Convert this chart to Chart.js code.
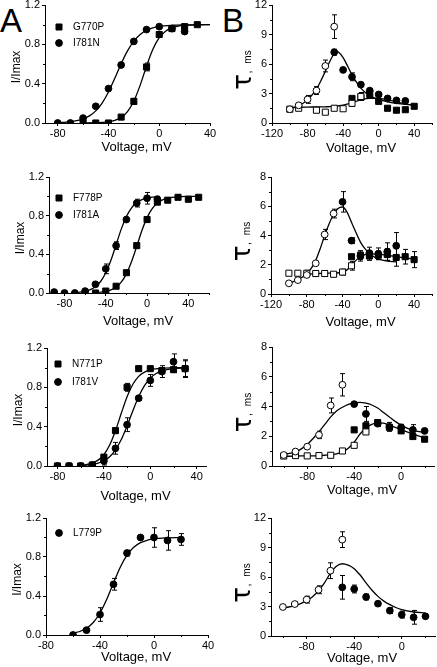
<!DOCTYPE html>
<html>
<head>
<meta charset="utf-8">
<script src="https://cdn.jsdelivr.net/npm/chart.js@4.4.1/dist/chart.umd.min.js"></script>
<style>
  body { margin: 0; background: #fff; width: 437px; height: 667px; position: relative; overflow: hidden; }
  canvas { position: absolute; }
  .letter { position: absolute; font: 33px/1 "Liberation Sans", Arial, sans-serif; color: #000; }
</style>
</head>
<body>
<div class="letter" style="left:0px;top:4px">A</div>
<div class="letter" style="left:222px;top:4px">B</div>
<script>
const FONT = '"Liberation Sans", Arial, sans-serif';

// Tick labels
const ticksVoltA = [-80, -40, 0, 40];
const ticksVoltB = [-120, -80, -40, 0, 40];
const ticksVoltB34 = [-80, -40, 0];
const ticksIrel = [0, 0.4, 0.8, 1.2];
const ticksTau12 = [0, 3, 6, 9, 12];
const ticksTau8 = [0, 2, 4, 6, 8];

// A1: G770P (squares) and I781N (circles)
const a1SqV = [-60, -50, -40, -30, -20, -10, 0, 10, 20, 30];
const a1Sq = [0, 0, 0, 0.06, 0.22, 0.57, 0.9, 0.96, 0.98, 1.0];
const a1SqErr = [0, 0, 0, 0.01, 0.03, 0.04, 0.03, 0.02, 0.02, 0];
const a1CiV = [-80, -70, -60, -50, -40, -30, -20, -10, 0, 10, 20];
const a1Ci = [0, 0, 0.05, 0.17, 0.35, 0.59, 0.83, 0.95, 0.98, 0.96, 0.93];
const a1CiErr = [0, 0, 0.01, 0.01, 0.02, 0.02, 0.02, 0.01, 0.02, 0.02, 0.02];
const a1FitSqV = [-60, -50, -45, -40, -35, -30, -25, -20, -15, -10, -5, 0, 5, 10, 15, 20, 30, 40];
const a1FitSq = [0.001, 0.003, 0.006, 0.012, 0.027, 0.057, 0.116, 0.223, 0.385, 0.578, 0.749, 0.867, 0.934, 0.969, 0.986, 0.993, 0.998, 1.0];
const a1FitCiV = [-80, -75, -70, -65, -60, -55, -50, -45, -40, -35, -30, -25, -20, -15, -10, -5, 0, 10, 20, 30, 40];
const a1FitCi = [0.004, 0.007, 0.013, 0.023, 0.041, 0.072, 0.123, 0.203, 0.316, 0.456, 0.603, 0.733, 0.833, 0.9, 0.943, 0.967, 0.982, 0.994, 0.998, 0.999, 1.0];

// A2: F778P (squares) and I781A (circles)
const a2SqV = [-60, -50, -40, -30, -20, -10, 0, 10, 20, 30, 40, 50];
const a2Sq = [0, 0, 0.02, 0.07, 0.21, 0.49, 0.76, 0.94, 0.96, 0.99, 0.97, 0.99];
const a2SqErr = [0, 0, 0, 0.01, 0.02, 0.02, 0.02, 0.02, 0.02, 0.02, 0, 0];
const a2CiV = [-90, -80, -70, -60, -50, -40, -30, -20, -10, 0, 10];
const a2Ci = [0.01, 0, 0, 0.02, 0.09, 0.25, 0.49, 0.76, 0.93, 0.98, 0.97];
const a2CiErr = [0, 0, 0, 0, 0.02, 0.05, 0.04, 0.02, 0.04, 0.06, 0.03];
const a2FitSqV = [-50, -45, -40, -35, -30, -25, -20, -15, -10, -5, 0, 5, 10, 15, 20, 30, 40, 50];
const a2FitSq = [0.005, 0.009, 0.017, 0.032, 0.061, 0.112, 0.198, 0.325, 0.483, 0.646, 0.78, 0.873, 0.931, 0.963, 0.981, 0.995, 0.999, 1.0];
const a2FitCiV = [-70, -65, -60, -55, -50, -45, -40, -35, -30, -25, -20, -15, -10, -5, 0, 5, 10];
const a2FitCi = [0.005, 0.009, 0.018, 0.034, 0.065, 0.119, 0.209, 0.339, 0.5, 0.661, 0.791, 0.881, 0.935, 0.966, 0.982, 0.991, 0.995];

// A3: N771P (squares) and I781V (circles)
const a3SqV = [-80, -70, -60, -50, -40, -30, -20, -10, 0, 10, 20, 30];
const a3Sq = [0, 0, 0, 0.01, 0.09, 0.36, 0.8, 0.99, 0.99, 0.97, 0.98, 0.99];
const a3SqErr = [0, 0, 0, 0, 0.02, 0.03, 0.04, 0.02, 0.02, 0.03, 0.03, 0.09];
const a3CiV = [-80, -70, -60, -50, -40, -30, -20, -10, 0, 10, 20, 30];
const a3Ci = [0, 0, 0, 0.01, 0.05, 0.18, 0.42, 0.69, 0.87, 0.96, 1.06, 0.99];
const a3CiErr = [0, 0, 0, 0, 0.04, 0.06, 0.07, 0.02, 0.06, 0.06, 0.08, 0.08];
const a3FitSqV = [-60, -55, -50, -45, -40, -35, -30, -25, -20, -15, -10, -5, 0, 10, 20, 30];
const a3FitSq = [0.007, 0.015, 0.03, 0.06, 0.116, 0.214, 0.359, 0.536, 0.705, 0.831, 0.911, 0.954, 0.977, 0.995, 0.999, 1.0];
const a3FitCiV = [-60, -55, -50, -45, -40, -35, -30, -25, -20, -15, -10, -5, 0, 5, 10, 20, 30];
const a3FitCi = [0.005, 0.009, 0.016, 0.029, 0.053, 0.095, 0.165, 0.269, 0.407, 0.562, 0.706, 0.818, 0.893, 0.94, 0.967, 0.99, 0.997];

// A4: L779P (circles)
const a4CiV = [-60, -50, -40, -30, -20, -10, 0, 10, 20];
const a4Ci = [0, 0.05, 0.21, 0.52, 0.84, 1.0, 1.0, 0.97, 0.98];
const a4CiErr = [0, 0.01, 0.07, 0.06, 0.03, 0.01, 0.1, 0.1, 0.06];
const a4FitV = [-60, -55, -50, -45, -40, -35, -30, -25, -20, -15, -10, -5, 0, 10, 20];
const a4Fit = [0.019, 0.036, 0.069, 0.128, 0.226, 0.366, 0.534, 0.695, 0.819, 0.899, 0.947, 0.972, 0.986, 0.996, 0.999];

// B1: time constants (ms), open = deactivation, filled = activation
const b1OcV = [-100, -90, -80, -70, -60, -50];
const b1Oc = [1.4, 1.8, 2.4, 3.3, 5.8, 9.8];
const b1OcErr = [0.1, 0.2, 0.4, 0.4, 0.6, 1.2];
const b1OsV = [-100, -90, -70, -60, -50, -40, -30, -20];
const b1Os = [1.4, 1.5, 1.3, 1.1, 1.5, 1.45, 2.0, 2.7];
const b1OsErr = [0, 0.1, 0.1, 0.1, 0.1, 0.1, 0.3, 0.4];
const b1FcV = [-50, -40, -30, -20, -10, 0, 10, 20, 30];
const b1Fc = [7.2, 5.4, 4.7, 3.9, 3.3, 2.9, 2.5, 2.3, 2.25];
const b1FcErr = [0.3, 0.15, 0.4, 0.15, 0.2, 0.15, 0.1, 0.1, 0.1];
const b1FsV = [-30, -20, -10, 0, 10, 20, 30, 40];
const b1Fs = [2.5, 2.6, 2.9, 2.2, 1.5, 1.3, 1.35, 1.7];
const b1FsErr = [0.15, 0.2, 0.2, 0.15, 0.1, 0.1, 0.1, 0.1];
const b1FitBellV = [-100, -95, -90, -85, -80, -75, -70, -65, -60, -55, -50, -47, -45, -40, -35, -30, -25, -20, -15, -10, -5, 0, 10, 20, 30, 40];
const b1FitBell = [1.5, 1.6, 1.75, 2.0, 2.35, 2.85, 3.45, 4.3, 5.25, 6.25, 7.05, 7.25, 7.2, 6.65, 5.8, 4.9, 4.15, 3.55, 3.1, 2.8, 2.55, 2.4, 2.15, 2.0, 1.9, 1.85];
const b1FitLowV = [-100, -90, -80, -70, -60, -50, -40, -30, -20, -10, 0, 10, 20, 30, 40];
const b1FitLow = [1.55, 1.6, 1.62, 1.63, 1.65, 1.7, 1.82, 2.05, 2.35, 2.5, 2.5, 2.35, 2.15, 1.95, 1.8];

// B2
const b2OcV = [-100, -90, -80, -70, -60, -50];
const b2Oc = [0.73, 0.95, 1.3, 2.1, 4.07, 5.5];
const b2OcErr = [0, 0, 0.1, 0.1, 0.35, 0.3];
const b2OsV = [-100, -90, -80, -70, -60, -50, -40, -30];
const b2Os = [1.42, 1.42, 1.42, 1.4, 1.4, 1.35, 1.5, 1.93];
const b2OsErr = [0, 0, 0.2, 0.2, 0.2, 0.1, 0.2, 0.3];
const b2FcV = [-40, -30, -20, -10, 0, 10, 20];
const b2Fc = [6.3, 3.65, 2.6, 2.8, 2.75, 2.9, 3.3];
const b2FcErr = [0.7, 0.2, 0.35, 0.4, 0.4, 0.6, 0.9];
const b2FsV = [-30, -20, -10, 0, 10, 20, 30, 40];
const b2Fs = [2.55, 2.65, 2.6, 2.65, 2.7, 2.5, 2.55, 2.35];
const b2FsErr = [0.1, 0.3, 0.3, 0.3, 0.4, 0.6, 0.5, 0.55];
const b2FitBellV = [-82, -80, -75, -70, -65, -60, -55, -50, -45, -40, -35, -30, -25, -20, -15, -10, -5, 0, 10, 20];
const b2FitBell = [1.3, 1.4, 1.75, 2.3, 3.1, 4.0, 4.8, 5.45, 5.85, 5.95, 5.6, 4.9, 4.2, 3.55, 3.1, 2.8, 2.55, 2.4, 2.25, 2.2];
const b2FitLowV = [-100, -95, -90, -85, -80, -75, -70, -60, -50, -40, -35, -30, -25, -20, -15, -10, 0, 10, 20, 30, 40];
const b2FitLow = [0.75, 0.85, 0.98, 1.15, 1.3, 1.37, 1.4, 1.42, 1.43, 1.5, 1.65, 1.95, 2.3, 2.55, 2.7, 2.75, 2.72, 2.65, 2.55, 2.45, 2.4];

// B3
const b3OcV = [-100, -90, -80, -70, -60, -50];
const b3Oc = [0.74, 0.97, 1.3, 2.09, 4.07, 5.46];
const b3OcErr = [0.05, 0.05, 0.1, 0.25, 0.5, 0.75];
const b3OsV = [-100, -90, -80, -70, -60, -50, -40, -30];
const b3Os = [0.67, 0.7, 0.68, 0.7, 0.72, 1.01, 1.39, 2.29];
const b3OsErr = [0, 0, 0, 0, 0, 0.1, 0.1, 0.1];
const b3FcV = [-40, -30, -20, -10, 0, 10, 20];
const b3Fc = [4.16, 3.5, 2.85, 2.63, 2.6, 2.43, 2.36];
const b3FcErr = [0.15, 0.5, 0.2, 0.3, 0.2, 0.35, 0.1];
const b3FsV = [-40, -30, -20, -10, 0, 10, 20];
const b3Fs = [2.43, 2.7, 2.92, 2.6, 2.36, 1.98, 1.8];
const b3FsErr = [0.1, 0.2, 0.1, 0.1, 0.1, 0.1, 0.1];
const b3FitBellV = [-100, -95, -90, -85, -80, -75, -70, -65, -60, -55, -50, -45, -40, -35, -30, -25, -20, -15, -10, -5, 0, 5, 10, 20];
const b3FitBell = [0.8, 0.85, 0.95, 1.15, 1.45, 1.85, 2.3, 2.8, 3.3, 3.7, 3.95, 4.15, 4.25, 4.28, 4.22, 4.1, 3.9, 3.6, 3.3, 3.0, 2.75, 2.55, 2.4, 2.25];
const b3FitLowV = [-100, -90, -80, -70, -60, -55, -50, -45, -40, -35, -30, -25, -20, -15, -10, -5, 0, 10, 20];
const b3FitLow = [0.65, 0.67, 0.68, 0.7, 0.75, 0.82, 0.95, 1.2, 1.6, 2.15, 2.55, 2.8, 2.9, 2.88, 2.75, 2.6, 2.45, 2.15, 1.9];

// B4
const b4OcV = [-100, -90, -80, -70, -60, -50];
const b4Oc = [2.95, 3.25, 3.7, 4.7, 6.64, 9.8];
const b4OcErr = [0.15, 0.2, 0.35, 0.4, 0.8, 0.8];
const b4FcV = [-50, -40, -30, -20, -10, 0, 10, 20];
const b4Fc = [4.95, 4.78, 3.97, 3.29, 2.58, 2.17, 1.9, 2.0];
const b4FcErr = [1.2, 0.4, 0.3, 0.2, 0.3, 0.35, 0.7, 0.1];
const b4FitV = [-100, -95, -90, -85, -80, -75, -70, -65, -60, -55, -50, -45, -40, -35, -30, -25, -20, -15, -10, -5, 0, 10, 20];
const b4Fit = [2.85, 2.95, 3.1, 3.3, 3.6, 4.0, 4.6, 5.4, 6.4, 7.1, 7.35, 7.2, 6.85, 6.2, 5.4, 4.65, 4.03, 3.55, 3.19, 2.9, 2.68, 2.44, 2.34];

// Marker series: kind = sqF / ciF / sqO / ciO
function pts(xs, ys, errs, kind) {
  const square = kind[0] === 's';
  return {
    data: xs.map((x, i) => ({ x: x, y: ys[i] })),
    errs: errs,
    showLine: false,
    pointStyle: square ? 'rect' : 'circle',
    pointRadius: square ? 4.3 : 3.4,
    pointBackgroundColor: kind[2] === 'F' ? '#000' : '#fff',
    pointBorderColor: '#000',
    pointBorderWidth: 1,
  };
}

// Fitted curve
function fit(xs, ys) {
  return {
    data: xs.map((x, i) => ({ x: x, y: ys[i] })),
    showLine: true,
    pointRadius: 0,
    borderColor: '#000',
    borderWidth: 1.3,
    cubicInterpolationMode: 'monotone',
    fill: false,
  };
}

function minorVals(ticks, min, max) {
  const step = ticks[1] - ticks[0];
  const out = [];
  for (let v = ticks[0] - step / 2; v <= max + 1e-9; v += step) {
    if (v >= min - 1e-9) out.push(v);
  }
  return out;
}

function drawMarker(ctx, x, y, kind) {
  ctx.beginPath();
  if (kind[0] === 's') ctx.rect(x - 3, y - 3, 6, 6);
  else ctx.arc(x, y, 3.4, 0, Math.PI * 2);
  ctx.fillStyle = kind[2] === 'F' ? '#000' : '#fff';
  ctx.fill();
  ctx.strokeStyle = '#000';
  ctx.lineWidth = 1;
  ctx.stroke();
}

const panelDecor = {
  id: 'panelDecor',
  beforeDatasetsDraw(chart) {
    // error bars
    const ctx = chart.ctx, xs = chart.scales.x, ys = chart.scales.y;
    ctx.save();
    ctx.strokeStyle = '#000';
    ctx.lineWidth = 1;
    chart.data.datasets.forEach((ds) => {
      if (!ds.errs) return;
      ds.data.forEach((p, i) => {
        const e = ds.errs[i];
        if (!e) return;
        const px = Math.round(xs.getPixelForValue(p.x)) + 0.5;
        const y1 = ys.getPixelForValue(p.y + e);
        const y2 = ys.getPixelForValue(p.y - e);
        ctx.beginPath();
        ctx.moveTo(px, y1); ctx.lineTo(px, y2);
        ctx.moveTo(px - 2.5, y1); ctx.lineTo(px + 2.5, y1);
        ctx.moveTo(px - 2.5, y2); ctx.lineTo(px + 2.5, y2);
        ctx.stroke();
      });
    });
    ctx.restore();
  },
  afterDraw(chart) {
    const d = chart.canvas.decor;
    const ctx = chart.ctx, xs = chart.scales.x, ys = chart.scales.y;
    const a = chart.chartArea;
    ctx.save();
    ctx.strokeStyle = '#000';
    ctx.fillStyle = '#000';
    ctx.lineWidth = 1;

    // minor ticks
    ctx.beginPath();
    minorVals(d.xTicks, d.xRange[0], d.xRange[1]).forEach((v) => {
      const px = Math.round(xs.getPixelForValue(v)) + 0.5;
      ctx.moveTo(px, a.bottom); ctx.lineTo(px, a.bottom + 2);
    });
    minorVals(d.yTicks, d.yRange[0], d.yRange[1]).forEach((v) => {
      const py = Math.round(ys.getPixelForValue(v)) + 0.5;
      ctx.moveTo(a.left, py); ctx.lineTo(a.left - 2, py);
    });
    ctx.stroke();

    // x title
    ctx.font = '13px ' + FONT;
    ctx.textAlign = 'center';
    ctx.textBaseline = 'middle';
    ctx.fillText('Voltage, mV', (a.left + a.right) / 2 + 9, a.bottom + d.xTitleDy);

    // y title
    const mid = (a.top + a.bottom) / 2;
    if (d.kind === 'A') {
      ctx.save();
      ctx.translate(a.left - 28, mid + 3);
      ctx.rotate(-Math.PI / 2);
      ctx.font = '12px ' + FONT;
      ctx.fillText('I/Imax', 0, 0);
      ctx.restore();
    } else {
      ctx.save();
      ctx.translate(a.left - 27, mid);
      ctx.rotate(-Math.PI / 2);
      ctx.textBaseline = 'alphabetic';
      ctx.font = '26px "DejaVu Sans"';
      ctx.fillText('τ', -18, 6);
      ctx.font = '11px ' + FONT;
      ctx.fillText(',', -8, 6);
      ctx.font = '10px ' + FONT;
      ctx.fillText('ms', 7, 6);
      ctx.restore();
    }

    // legend (positions already canvas-relative)
    (d.legend || []).forEach((it) => {
      drawMarker(ctx, it[0], it[1], it[2]);
    });
    ctx.font = '10px ' + FONT;
    ctx.textAlign = 'left';
    ctx.textBaseline = 'middle';
    ctx.fillStyle = '#000';
    (d.legend || []).forEach((it) => {
      ctx.fillText(it[3], it[0] + 14, it[1]);
    });
    ctx.restore();
  },
};

function makePanel(p) {
  const padL = 40, padT = 10, padR = 14, padB = 40;
  const box = p.box;
  const canvas = document.createElement('canvas');
  const w = box.r - box.l + padL + padR;
  const h = box.b - box.t + padT + padB;
  const left = box.l - padL, top = box.t - padT;
  canvas.width = w;
  canvas.height = h;
  canvas.style.left = left + 'px';
  canvas.style.top = top + 'px';
  canvas.style.width = w + 'px';
  canvas.style.height = h + 'px';
  document.body.appendChild(canvas);
  canvas.decor = {
    kind: p.kind, xTicks: p.xt, yTicks: p.yt, xRange: p.x, yRange: p.y,
    xTitleDy: p.titleDy,
    // legend given in page coords, converted to canvas coords
    legend: (p.legend || []).map((it) => [it[0] - left, it[1] - top, it[2], it[3]]),
  };

  const axisCommon = {
    type: 'linear',
    grid: { display: true, drawOnChartArea: false, drawTicks: true, tickLength: 3, color: '#000', lineWidth: 1 },
    border: { display: true, color: '#000', width: 1 },
  };

  new Chart(canvas, {
    type: 'scatter',
    data: { datasets: p.sets },
    options: {
      responsive: false,
      animation: false,
      events: [],
      layout: { padding: { left: 0, top: padT, right: padR, bottom: 0 } },
      plugins: { legend: { display: false }, tooltip: { enabled: false } },
      scales: {
        x: Object.assign({}, axisCommon, {
          min: p.x[0], max: p.x[1],
          ticks: { color: '#000', font: { family: FONT, size: 11 }, padding: 1, maxRotation: 0, autoSkip: false,
            callback: (v) => String(v) },
          afterBuildTicks: (s) => { s.ticks = p.xt.map((v) => ({ value: v })); },
          afterFit: (s) => { s.height = padB; s.paddingLeft = 0; s.paddingRight = 0; },
        }),
        y: Object.assign({}, axisCommon, {
          min: p.y[0], max: p.y[1],
          ticks: { color: '#000', font: { family: FONT, size: 11 }, padding: 2, autoSkip: false,
            callback: (v) => (p.kind === 'A' ? v.toFixed(1) : String(v)) },
          afterBuildTicks: (s) => { s.ticks = p.yt.map((v) => ({ value: v })); },
          afterFit: (s) => { s.width = padL; s.paddingTop = 0; s.paddingBottom = 0; },
        }),
      },
    },
    plugins: [panelDecor],
  });
}

const panels = [
  { kind: 'A', box: { l: 45, r: 210, t: 5, b: 123 }, x: [-90, 40], y: [0, 1.2], xt: ticksVoltA, yt: ticksIrel, titleDy: 24,
    legend: [[59, 27, 'sqF', 'G770P'], [59, 43, 'ciF', 'I781N']],
    sets: [pts(a1SqV, a1Sq, a1SqErr, 'sqF'), pts(a1CiV, a1Ci, a1CiErr, 'ciF'), fit(a1FitSqV, a1FitSq), fit(a1FitCiV, a1FitCi)] },
  { kind: 'B', box: { l: 272, r: 432, t: 5, b: 123 }, x: [-120, 60], y: [0, 12], xt: ticksVoltB, yt: ticksTau12, titleDy: 25,
    sets: [pts(b1OcV, b1Oc, b1OcErr, 'ciO'), pts(b1OsV, b1Os, b1OsErr, 'sqO'), pts(b1FcV, b1Fc, b1FcErr, 'ciF'), pts(b1FsV, b1Fs, b1FsErr, 'sqF'),
      fit(b1FitBellV, b1FitBell), fit(b1FitLowV, b1FitLow)] },
  { kind: 'A', box: { l: 49, r: 209, t: 177, b: 293 }, x: [-95, 60], y: [0, 1.2], xt: ticksVoltA, yt: ticksIrel, titleDy: 28,
    legend: [[59, 198, 'sqF', 'F778P'], [59, 215, 'ciF', 'I781A']],
    sets: [pts(a2SqV, a2Sq, a2SqErr, 'sqF'), pts(a2CiV, a2Ci, a2CiErr, 'ciF'), fit(a2FitSqV, a2FitSq), fit(a2FitCiV, a2FitCi)] },
  { kind: 'B', box: { l: 271, r: 432, t: 177, b: 294 }, x: [-120, 60], y: [0, 8], xt: ticksVoltB, yt: ticksTau8, titleDy: 28,
    sets: [pts(b2OcV, b2Oc, b2OcErr, 'ciO'), pts(b2OsV, b2Os, b2OsErr, 'sqO'), pts(b2FcV, b2Fc, b2FcErr, 'ciF'), pts(b2FsV, b2Fs, b2FsErr, 'sqF'),
      fit(b2FitBellV, b2FitBell), fit(b2FitLowV, b2FitLow)] },
  { kind: 'A', box: { l: 47, r: 206, t: 348, b: 466 }, x: [-89, 48], y: [0, 1.2], xt: ticksVoltA, yt: ticksIrel, titleDy: 30,
    legend: [[58, 364, 'sqF', 'N771P'], [58, 382, 'ciF', 'I781V']],
    sets: [pts(a3SqV, a3Sq, a3SqErr, 'sqF'), pts(a3CiV, a3Ci, a3CiErr, 'ciF'), fit(a3FitSqV, a3FitSq), fit(a3FitCiV, a3FitCi)] },
  { kind: 'B', box: { l: 272, r: 434, t: 347, b: 466 }, x: [-110, 28], y: [0, 8], xt: ticksVoltB34, yt: ticksTau8, titleDy: 24,
    sets: [pts(b3OcV, b3Oc, b3OcErr, 'ciO'), pts(b3OsV, b3Os, b3OsErr, 'sqO'), pts(b3FcV, b3Fc, b3FcErr, 'ciF'), pts(b3FsV, b3Fs, b3FsErr, 'sqF'),
      fit(b3FitBellV, b3FitBell), fit(b3FitLowV, b3FitLow)] },
  { kind: 'A', box: { l: 46, r: 208, t: 518, b: 635 }, x: [-80, 40], y: [0, 1.2], xt: ticksVoltA, yt: ticksIrel, titleDy: 22,
    legend: [[59, 533, 'ciF', 'L779P']],
    sets: [pts(a4CiV, a4Ci, a4CiErr, 'ciF'), fit(a4FitV, a4Fit)] },
  { kind: 'B', box: { l: 271, r: 435, t: 518, b: 636 }, x: [-110, 28], y: [0, 12], xt: ticksVoltB34, yt: ticksTau12, titleDy: 22,
    sets: [pts(b4OcV, b4Oc, b4OcErr, 'ciO'), pts(b4FcV, b4Fc, b4FcErr, 'ciF'), fit(b4FitV, b4Fit)] },
];

panels.forEach(makePanel);
</script>
</body>
</html>
